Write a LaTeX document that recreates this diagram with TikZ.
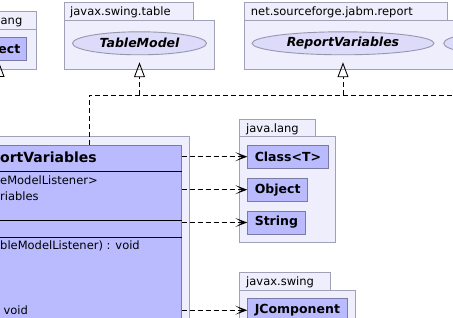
\documentclass[tikz,border=0pt]{standalone}
\usepackage{fontspec}
\setmainfont{DejaVu Sans}[ItalicFont={DejaVu Sans Oblique},BoldFont={DejaVu Sans Bold},BoldItalicFont={DejaVu Sans Bold Oblique}]
\usetikzlibrary{arrows.meta,shapes.geometric}

\definecolor{pkgfill}{RGB}{238,238,252}
\definecolor{pkgdraw}{RGB}{160,160,182}
\definecolor{clsfill}{RGB}{186,186,255}
\definecolor{clsdraw}{RGB}{122,122,165}
\definecolor{ifill}{RGB}{220,220,250}
\definecolor{idraw}{RGB}{150,150,172}

\tikzset{
  pkg/.style={draw=pkgdraw, fill=pkgfill, line width=0.9pt},
  pkglabel/.style={anchor=base west, inner sep=0pt, font=\fontsize{11.5}{13}\selectfont},
  cls/.style={draw=clsdraw, fill=clsfill, line width=0.9pt, minimum height=23pt,
    inner xsep=7pt, font=\fontsize{12.5}{14}\selectfont\bfseries},
  iface/.style={ellipse, draw=idraw, fill=ifill, line width=0.9pt, minimum height=23pt,
    inner sep=0pt, font=\fontsize{12.5}{14}\selectfont\bfseries\itshape},
  member/.style={anchor=base west, inner sep=0pt, font=\fontsize{11.5}{13}\selectfont},
  dep/.style={draw, line width=0.9pt, dash pattern=on 5pt off 3pt,
    -{Stealth[open,length=12pt,width=9pt,inset=7pt]}},
  realize/.style={draw, line width=0.9pt, dash pattern=on 5pt off 3pt,
    -{Triangle[open,length=15pt,width=11pt]}},
}

\begin{document}
\begin{tikzpicture}[x=1pt,y=-1pt]
    \useasboundingbox (0,0) rectangle (453,318);

    % Packages along the top
    \draw[pkg] (-60,11.7) rectangle (36,29.3);
    \draw[pkg] (-60,29.3) rectangle (36,69.3);
    \node[pkglabel] (langtop) at (0.5,25) {ang};
    \node[cls, anchor=east, text width=27pt, align=right, inner xsep=6pt] (objtop) at (26.7,48.8) {ect};

    \draw[pkg] (64.3,2.7) rectangle (193.3,20);
    \draw[pkg] (64.3,20) rectangle (214,69.3);
    \node[pkglabel] (swtable) at (70,15.8) {javax.swing.table};
    \node[iface, minimum width=134pt] (tm) at (139.5,43.3) {TableModel};

    \draw[pkg] (244.3,2.7) rectangle (447,20);
    \draw[pkg] (244.3,20) rectangle (480,69.3);
    \node[pkglabel] (report) at (250.7,15.8) {net.sourceforge.jabm.report};
    \node[iface, minimum width=182pt] (rvi) at (343,43.3) {ReportVariables};
    \node[iface, minimum width=120pt, anchor=west] (nexti) at (443.3,43.3) {};

    % Package holding the class
    \draw[pkg] (-60,136.7) rectangle (189.3,400);
    \node[cls, anchor=north east, minimum width=300pt, minimum height=240pt] (impl) at (181.7,145) {};
    \draw[line width=0.9pt] (impl.east |- 0,171.3) -- (-60,171.3);
    \draw[line width=0.9pt] (impl.east |- 0,220) -- (-60,220);
    \draw[line width=0.9pt] (impl.east |- 0,237.3) -- (-60,237.3);
    \node[member, font=\fontsize{14}{16}\selectfont\bfseries] (title) at (0,163) {ortVariables};
    \node[member] (attr1) at (0,185) {eModelListener>};
    \node[member] (attr2) at (0,201) {riables};
    \node[member] (meth1) at (0,250) {bleModelListener) : void};
    \node[member] (meth2) at (3.3,314) {void};

    % java.lang
    \draw[pkg] (239.3,119.3) rectangle (315.7,136);
    \draw[pkg] (239.3,136) rectangle (335.3,242.3);
    \node[pkglabel] (lang) at (246,132.2) {java.lang};
    \node[cls, anchor=west] (clsT) at (247.3,156.7) {Class<T>};
    \node[cls, anchor=west] (obj) at (247.3,189.7) {Object};
    \node[cls, anchor=west] (str) at (247.3,222.5) {String};

    % javax.swing
    \draw[pkg] (239.3,272.7) rectangle (330.7,290);
    \draw[pkg] (239.3,290) rectangle (355.3,400);
    \node[pkglabel] (swing) at (246,285.8) {javax.swing};
    \node[cls, anchor=north west] (jcomp) at (247.3,298.3) {JComponent};

    % Realizations, merged into one trunk
    \coordinate (trunk) at (89.3,95);
    \coordinate (trunkend) at (460,95);
    \draw[line width=0.9pt, dash pattern=on 5pt off 3pt] (trunk |- impl.north) -- (trunk) -- (trunkend);
    \draw[realize, shorten >=7pt] (tm.south |- trunk) -- (tm.south);
    \draw[realize, shorten >=7pt] (rvi.south |- trunk) -- (rvi.south);
    \coordinate (objbase) at (-1,140);
    \coordinate (objtip) at (-1,62);
    \draw[realize] (objbase) -- (objtip);

    % Dependencies
    \draw[dep] (impl.east |- clsT.west) -- (clsT.west);
    \draw[dep] (impl.east |- obj.west) -- (obj.west);
    \draw[dep] (impl.east |- str.west) -- (str.west);
    \draw[dep] (impl.east |- jcomp.west) -- (jcomp.west);
\end{tikzpicture}
\end{document}
